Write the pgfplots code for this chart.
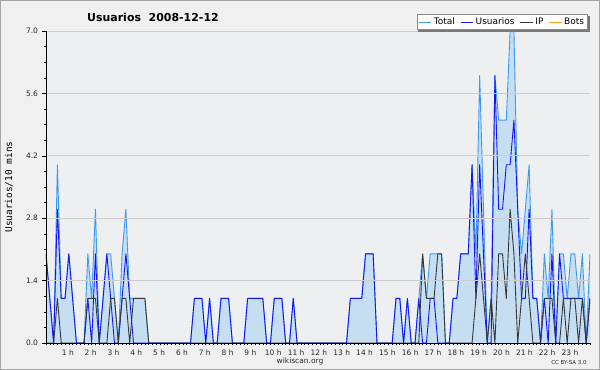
\documentclass[border=0pt]{standalone}
\usepackage{fontspec}
\setmainfont{DejaVu Sans}
\setmonofont{DejaVu Sans Mono}
\usepackage{pgfplots}
\usepackage{pgfplotstable}
\pgfplotsset{compat=1.18}
\definecolor{bgout}{RGB}{240,240,240}
\definecolor{plotbg}{RGB}{237,239,241}
\definecolor{totline}{RGB}{60,155,240}
\definecolor{totfill}{RGB}{198,222,241}
\definecolor{usrline}{RGB}{20,20,250}
\definecolor{ipline}{RGB}{55,55,55}
\definecolor{botline}{RGB}{255,160,20}
\definecolor{gridc}{RGB}{205,205,205}
\definecolor{shadowc}{RGB}{120,120,120}

\pgfplotstableread{
i U I T
0 2 0 2
1 1 0 1
2 0 0 0
3 3 1 4
4 1 0 1
5 1 0 1
6 2 0 2
7 1 0 1
8 0 0 0
9 0 0 0
10 0 0 0
11 1 1 2
12 0 1 1
13 2 1 3
14 0 0 0
15 1 0 1
16 2 0 2
17 1 1 2
18 0 1 1
19 0 0 0
20 1 1 2
21 2 1 3
22 1 0 1
23 0 1 1
24 0 1 1
25 0 1 1
26 0 1 1
27 0 0 0
28 0 0 0
29 0 0 0
30 0 0 0
31 0 0 0
32 0 0 0
33 0 0 0
34 0 0 0
35 0 0 0
36 0 0 0
37 0 0 0
38 0 0 0
39 1 0 1
40 1 0 1
41 1 0 1
42 0 0 0
43 1 0 1
44 0 0 0
45 0 0 0
46 1 0 1
47 1 0 1
48 1 0 1
49 0 0 0
50 0 0 0
51 0 0 0
52 0 0 0
53 1 0 1
54 1 0 1
55 1 0 1
56 1 0 1
57 1 0 1
58 0 0 0
59 0 0 0
60 1 0 1
61 1 0 1
62 1 0 1
63 0 0 0
64 0 0 0
65 1 0 1
66 0 0 0
67 0 0 0
68 0 0 0
69 0 0 0
70 0 0 0
71 0 0 0
72 0 0 0
73 0 0 0
74 0 0 0
75 0 0 0
76 0 0 0
77 0 0 0
78 0 0 0
79 0 0 0
80 1 0 1
81 1 0 1
82 1 0 1
83 1 0 1
84 2 0 2
85 2 0 2
86 2 0 2
87 0 0 0
88 0 0 0
89 0 0 0
90 0 0 0
91 0 0 0
92 1 0 1
93 1 0 1
94 0 0 0
95 1 0 1
96 0 0 0
97 0 0 0
98 1 0 1
99 0 2 2
100 0 1 1
101 1 1 2
102 1 1 2
103 0 2 2
104 0 2 2
105 0 0 0
106 0 0 0
107 1 0 1
108 1 0 1
109 2 0 2
110 2 0 2
111 2 0 2
112 4 0 4
113 1 1 2
114 4 2 6
115 2 1 3
116 0 0 0
117 0 1 1
118 6 0 6
119 3 2 5
120 3 2 5
121 4 1 5
122 4 3 7
123 5 2 7
124 3 0 3
125 1 1 2
126 1 2 3
127 3 1 4
128 1 0 1
129 1 0 1
130 0 0 0
131 1 1 2
132 0 1 1
133 2 1 3
134 0 0 0
135 2 0 2
136 1 1 2
137 1 0 1
138 1 1 2
139 1 1 2
140 1 0 1
141 1 1 2
142 0 0 0
143 1 1 2
}\datatab

\begin{document}
\begin{tikzpicture}
\useasboundingbox (0,0) rectangle (600bp,370bp);
\fill[bgout] (0,0) rectangle (600bp,370bp);
\draw[black!35, line width=1bp] (0.5bp,0.5bp) rectangle (599.5bp,369.5bp);
\begin{axis}[
  at={(46bp,27bp)}, anchor=south west, scale only axis,
  width=544bp, height=312bp,
  xmin=0, xmax=143, ymin=0, ymax=7,
  axis lines*=left,
  axis line style={-, black, line width=0.8bp},
  axis background/.style={fill=plotbg},
  axis on top,
  xtick={6,12,...,138},
  xticklabels={1 h,2 h,3 h,4 h,5 h,6 h,7 h,8 h,9 h,10 h,11 h,12 h,13 h,14 h,15 h,16 h,17 h,18 h,19 h,20 h,21 h,22 h,23 h},
  minor xtick={0,1,...,143},
  ytick={0,1.4,2.8,4.2,5.6,7},
  yticklabels={0.0,1.4,2.8,4.2,5.6,7.0},
  minor y tick num=3,
  tick align=outside,
  major tick length=4.5bp, minor tick length=2.5bp,
  xtick style={/pgfplots/major tick length=2.5bp},
  tick style={black, line width=0.6bp},
  ymajorgrids,
  major grid style={draw=gridc, line width=0.7bp},
  tick label style={font=\fontsize{7.5}{8}\selectfont, text=black!85},
  xticklabel style={yshift=1bp, xshift=-1bp},
  ylabel={Usuarios/10 mins},
  ylabel style={font=\ttfamily\fontsize{9.5}{10}\selectfont, at={(axis description cs:-0.068,0.5)}, anchor=center},
  legend style={at={(axis description cs:0.996,1.003)}, anchor=south east,
    name=leg,
    draw=black!45, fill=white, line width=0.6bp,
    font=\fontsize{9}{10}\selectfont, inner sep=1.5bp,
    /tikz/every even column/.append style={column sep=3.5bp}},
  legend columns=-1,
  legend image code/.code={\draw[#1, line width=1bp] (0bp,0bp) -- (11bp,0bp); \path (0bp,0bp) -- (12.5bp,0bp);},
]
\addplot[fill=totfill, draw=none, forget plot, mark=none] table[x=i,y=T]{\datatab} \closedcycle;
\addplot[totline, line width=0.9bp, line join=round, mark=none] table[x=i,y=T]{\datatab};
\addlegendentry{Total}
\addplot[usrline, line width=0.9bp, line join=round, mark=none] table[x=i,y=U]{\datatab};
\addlegendentry{Usuarios}
\addplot[ipline, line width=0.9bp, line join=round, mark=none] table[x=i,y=I]{\datatab};
\addlegendentry{IP}
\addlegendimage{botline}
\addlegendentry{Bots}
\end{axis}
\fill[shadowc] ([shift={(1.8bp,-0.3bp)}]leg.south west) rectangle ([shift={(1.8bp,-2.1bp)}]leg.south east);
\fill[shadowc] ([shift={(0.3bp,-2.1bp)}]leg.south east) rectangle ([shift={(2.1bp,-1.8bp)}]leg.north east);
\node[font=\bfseries\fontsize{11}{12}\selectfont, anchor=base] at (153bp,348bp) {Usuarios\ \ 2008-12-12};
\node[font=\fontsize{7.5}{8}\selectfont, text=black!85] at (300bp,8.5bp) {wikiscan.org};
\node[font=\fontsize{5.5}{6}\selectfont, text=black!85] at (569bp,7.5bp) {CC BY-SA 3.0};
\end{tikzpicture}
\end{document}
